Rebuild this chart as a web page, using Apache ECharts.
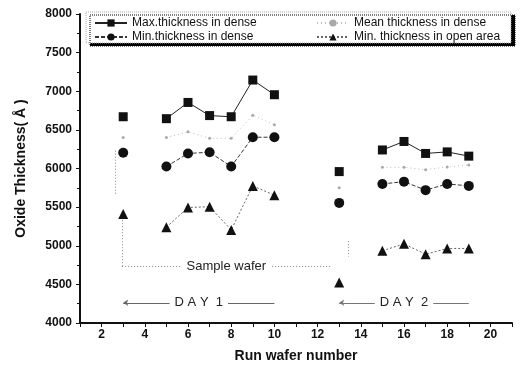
<!DOCTYPE html>
<html>
<head>
    <meta charset="utf-8">
    <title>Oxide thickness</title>
    <script src="https://cdn.jsdelivr.net/npm/echarts@6/dist/echarts.min.js"></script>
    <style>
        html, body { margin: 0; padding: 0; background: #fff; }
        #main { width: 521px; height: 372px; }
    </style>
</head>
<body>
    <div id="main"></div>
    <script>
        // run wafer numbers (null gap where no wafer)
        var wafers = [3, 5, 6, 7, 8, 9, 10, 13, 15, 16, 17, 18, 19];
        var maxDense = [6670, 6645, 6855, 6685, 6670, 7145, 6955, 5960, 6240, 6350, 6195, 6215, 6160];
        var meanDense = [6400, 6400, 6475, 6390, 6390, 6690, 6565, 5750, 6015, 6015, 5985, 6020, 6045];
        var minDense = [6205, 6025, 6195, 6210, 6025, 6405, 6405, 5555, 5800, 5830, 5720, 5800, 5775];
        var minOpen = [5410, 5240, 5495, 5505, 5205, 5775, 5655, 4525, 4935, 5025, 4890, 4965, 4965];
        var names = ['Max.thickness in dense', 'Mean thickness in dense', 'Min.thickness in dense', 'Min. thickness in open area'];

        // build [x, y] pairs; insert a null where wafer numbers are not consecutive
        function pairs(vals) {
            var out = [];
            for (var i = 0; i < wafers.length; i++) {
                if (i > 0 && wafers[i] - wafers[i - 1] > 1) out.push([wafers[i] - 1, null]);
                out.push([wafers[i], vals[i]]);
            }
            return out;
        }

        var font = 'Liberation Sans, Arial, sans-serif';
        var chart = echarts.init(document.getElementById('main'));

        var dotted = { color: '#888', width: 1, type: [1, 2] };

        function noteLabel(text) {
            return {
                show: true, position: 'insideMiddle', formatter: text,
                fontFamily: font, fontSize: 13, color: '#222',
                backgroundColor: '#fff', padding: [1, 5], distance: 0
            };
        }

        var legendText = { fontFamily: font, fontSize: 12, color: '#111', lineHeight: 12 };

        var option = {
            animation: false,
            grid: { left: 80, right: 9, top: 14, bottom: 49 },
            graphic: [{
                type: 'rect',
                z: 3,
                shape: { x: 86, y: 12, width: 425, height: 31 },
                style: {
                    fill: '#fff', stroke: '#aaa', lineWidth: 1, lineDash: [1, 1],
                    shadowColor: '#000', shadowOffsetX: 4, shadowOffsetY: 3, shadowBlur: 0
                }
            }],
            legend: [{
                data: [names[0], names[2]],
                orient: 'vertical',
                left: 94, top: 17, padding: 0,
                itemWidth: 32, itemHeight: 9, itemGap: 2,
                textStyle: legendText,
                z: 5
            }, {
                data: [names[1], names[3]],
                orient: 'vertical',
                left: 316, top: 17, padding: 0,
                itemWidth: 32, itemHeight: 9, itemGap: 2,
                textStyle: legendText,
                z: 5
            }],
            xAxis: {
                type: 'value',
                min: 1, max: 21, interval: 1,
                name: 'Run wafer number',
                nameLocation: 'middle',
                nameGap: 26,
                nameTextStyle: { fontFamily: font, fontSize: 14, fontWeight: 'bold', color: '#111' },
                axisLine: { lineStyle: { color: '#111', width: 2 } },
                axisTick: { inside: false, length: 4, lineStyle: { color: '#111' } },
                axisLabel: {
                    fontFamily: font, fontSize: 12, fontWeight: 'bold', color: '#111', margin: 6,
                    formatter: function (v) { return v % 2 === 0 ? v : ''; }
                },
                splitLine: { show: false }
            },
            yAxis: {
                type: 'value',
                min: 4000, max: 8000, interval: 500,
                name: 'Oxide Thickness( \u00C5 )',
                nameLocation: 'middle',
                nameGap: 52,
                nameTextStyle: { fontFamily: font, fontSize: 14, fontWeight: 'bold', color: '#111' },
                axisLine: { show: true, lineStyle: { color: '#111', width: 2 } },
                axisTick: { inside: false, length: 4, lineStyle: { color: '#111' } },
                minorTick: { show: true, splitNumber: 2, length: 3, lineStyle: { color: '#111' } },
                axisLabel: {
                    fontFamily: font, fontSize: 12, fontWeight: 'bold', color: '#111', margin: 8,
                    formatter: function (v) { return String(v); }
                },
                splitLine: { show: false }
            },
            series: [{
                name: names[0],
                type: 'line',
                data: pairs(maxDense),
                symbol: 'rect', symbolSize: 9,
                itemStyle: { color: '#111' },
                lineStyle: { color: '#222', width: 1 },
                z: 4
            }, {
                name: names[1],
                type: 'line',
                data: pairs(meanDense),
                symbol: 'circle', symbolSize: 3,
                itemStyle: { color: '#aaa' },
                lineStyle: { color: '#bbb', width: 1, type: [1, 3] },
                z: 2
            }, {
                name: names[2],
                type: 'line',
                data: pairs(minDense),
                symbol: 'circle', symbolSize: 10,
                itemStyle: { color: '#111' },
                lineStyle: { color: '#333', width: 1, type: [4, 2] },
                z: 4
            }, {
                name: names[3],
                type: 'line',
                data: pairs(minOpen),
                symbol: 'triangle', symbolSize: 10,
                itemStyle: { color: '#111' },
                lineStyle: { color: '#666', width: 1, type: [2, 2] },
                z: 4
            }, {
                // annotation brackets
                name: 'notes',
                type: 'line',
                data: [],
                silent: true,
                markLine: {
                    silent: true,
                    animation: false,
                    symbol: ['none', 'none'],
                    lineStyle: dotted,
                    label: { show: false },
                    data: [
                        [{ coord: [2.65, 6230] }, { coord: [2.65, 5660] }],
                        [{ coord: [2.95, 5330] }, { coord: [2.95, 4730] }],
                        [{ coord: [13.4, 5060] }, { coord: [13.4, 4860] }],
                        [{ coord: [2.95, 4730], label: noteLabel('Sample wafer') }, { coord: [12.6, 4730] }],
                        [{ coord: [3, 4262], symbol: 'arrow', symbolSize: 5, lineStyle: { color: '#666', type: 'solid' },
                           label: noteLabel('D A Y  1') }, { coord: [10, 4262], symbol: 'none' }],
                        [{ coord: [13, 4262], symbol: 'arrow', symbolSize: 5, lineStyle: { color: '#777', type: 'solid' },
                           label: noteLabel('D A Y  2') }, { coord: [19, 4262], symbol: 'none' }]
                    ]
                }
            }]
        };

        chart.setOption(option);
    </script>
</body>
</html>
